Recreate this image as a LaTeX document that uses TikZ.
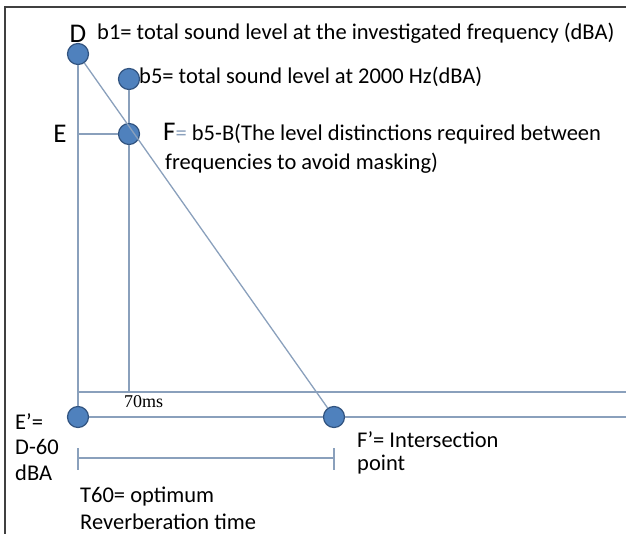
\documentclass[tikz,border=0pt]{standalone}
\usepackage{fontspec}
\setmainfont{Carlito}
\newfontfamily\timesfont{Liberation Serif}
\usetikzlibrary{positioning}
\definecolor{dotblue}{RGB}{79,129,189}
\definecolor{dotedge}{RGB}{50,84,128}
\definecolor{linegray}{RGB}{138,160,188}

\begin{document}
\begin{tikzpicture}[
			x=1pt, y=-1pt,
			dot/.style={
				circle,
				fill=dotblue,
				draw=dotedge,
				line width=1.2pt,
				minimum size=21pt,
				inner sep=0pt
			},
			line/.style={draw=linegray, line width=1.3pt},
			txt/.style={anchor=west, inner sep=0pt, font=\fontsize{22.5}{26}\selectfont},
			big/.style={inner sep=0pt, font=\fontsize{27}{30}\selectfont}
			]
			
			\useasboundingbox (0,0) rectangle (626,534);
			\draw[line width=1.6pt, black!75] (5,534) -- (5,7) -- (626,7);
			
			\node[dot] (D) at (78,54) {};
			\node[dot] (b5) at (129,79) {};
			\node[dot] (F) at (129,134) {};
			\node[dot] (Ep) at (78,417) {};
			\node[dot] (Fp) at (334,417) {};
			
			\coordinate (E) at (78,134);
			\coordinate (b5bot) at (129,392);
			\coordinate (baseL) at (78,392);
			\coordinate (baseR) at (626,392);
			\coordinate (axisR) at (626,417);
			\coordinate (t1) at (78,458);
			\coordinate (t2) at (334,458);
			
			\draw[line] (D) -- (Ep);
			\draw[line] (D) -- (Fp);
			\draw[line] (b5) -- (F);
			\draw[line] (F) -- (b5bot);
			\draw[line] (E) -- (F);
			\draw[line] (baseL) -- (baseR);
			\draw[line] (Ep) -- (Fp) -- (axisR);
			\draw[line] (t1) -- (t2);
			\draw[line] ([yshift=10pt]t1) -- ([yshift=-12pt]t1);
			\draw[line] ([yshift=10pt]t2) -- ([yshift=-12pt]t2);
			
			\node[big] (Dlab) at (78,34) {D};
			\node[big] (Elab) at (60,134) {E};
			\node[txt] (b1txt) at (97,33) {b1= total sound level at the investigated frequency (dBA)};
			\node[txt] (b5txt) at (139,77) {b5= total sound level at 2000 Hz(dBA)};
			\node[txt] (Ftxt) at (163,134) {{\fontsize{27}{30}\selectfont F}{\color{linegray}=} b5-B(The level distinctions required between};
			\node[txt] (Ftxt2) at (165,163) {frequencies to avoid masking)};
			\node[anchor=west, inner sep=0pt, font=\timesfont\fontsize{18}{20}\selectfont] (ms) at (124,402) {70ms};
			\node[txt] (Eptxt) at (15,422) {E’=};
			\node[txt] (Eptxt2) at (15,447) {D-60};
			\node[txt] (Eptxt3) at (15,473) {dBA};
			\node[txt] (Fptxt) at (357,440) {F’= Intersection};
			\node[txt] (Fptxt2) at (357,465) {point};
			\node[txt] (Ttxt) at (80,497) {T60= optimum};
			\node[txt] (Ttxt2) at (80,522) {Reverberation time};
			
		\end{tikzpicture}
\end{document}
